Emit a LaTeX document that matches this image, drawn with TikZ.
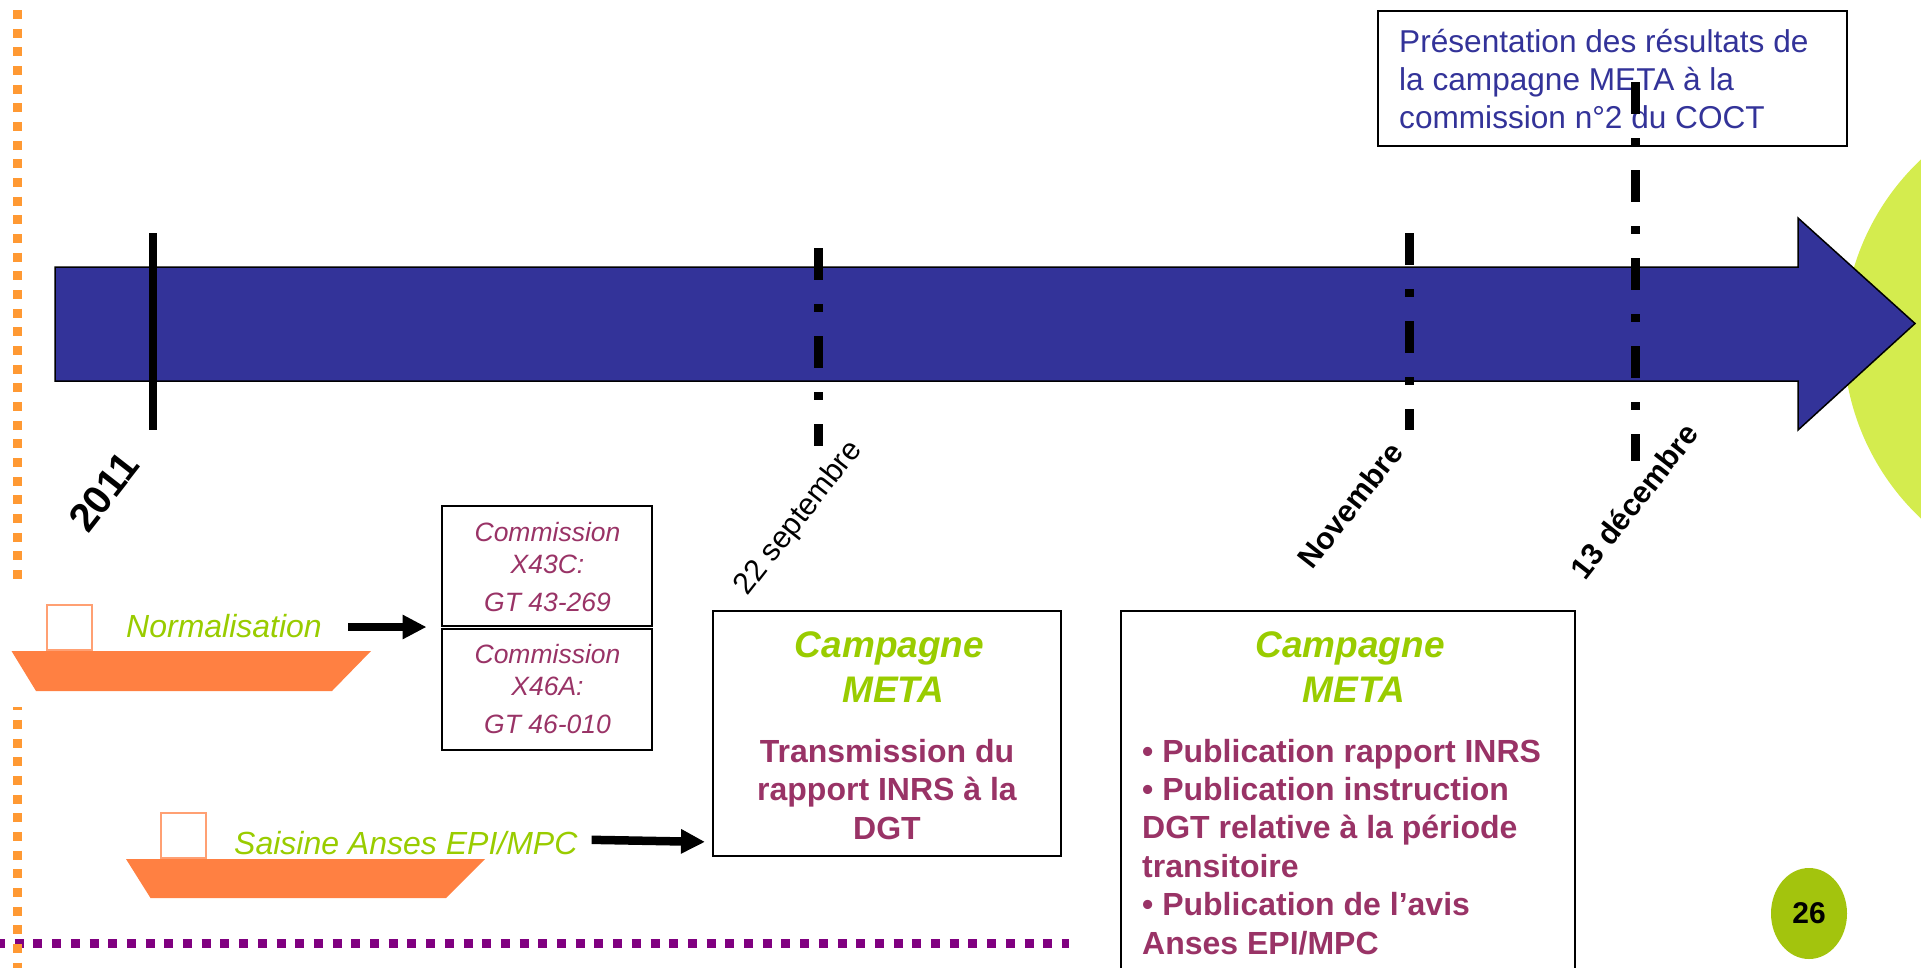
\documentclass[tikz,border=0pt]{standalone}
\usepackage{fontspec}
\setmainfont{Liberation Sans}
\usepackage{xcolor}
\usetikzlibrary{arrows.meta,calc,positioning,shapes.geometric}
\definecolor{timelineBlue}{RGB}{51,51,153}
\definecolor{wine}{RGB}{153,51,102}
\definecolor{leaf}{RGB}{153,204,0}
\definecolor{shipOrange}{RGB}{255,128,66}
\definecolor{cabinOrange}{RGB}{255,160,115}
\definecolor{dotOrange}{RGB}{255,153,51}
\definecolor{dotPurple}{RGB}{128,0,128}
\definecolor{sunLime}{RGB}{212,236,78}
\definecolor{badgeGreen}{RGB}{163,196,13}
\newcommand{\fsize}[2]{\fontsize{#1}{#2}\selectfont}
\tikzset{
  hull/.style={fill=shipOrange},
  cabin/.style={draw=cabinOrange, fill=white, line width=2pt},
  tick/.style={line width=8.5pt},
  tickDash/.style={tick, dash pattern=on 32pt off 24pt on 8pt off 24pt},
  dateLabel/.style={rotate=52, inner sep=0pt, font=\fsize{30.5}{30.5}},
  blockArrow/.style={-{Triangle[length=24pt,width=23pt]}, line width=8.5pt},
  sideNote/.style={font=\fsize{32}{32}\itshape, text=leaf, inner sep=0pt},
  framed/.style={draw, line width=2pt, inner sep=0pt},
  metaHead/.style={font=\fsize{37}{45.5}\bfseries\itshape, text=leaf, align=center, inner sep=0pt},
  metaBody/.style={font=\fsize{32}{38.4}\bfseries, text=wine, inner sep=0pt}
}
\begin{document}
\begin{tikzpicture}[x=1pt, y=-1pt]
  \useasboundingbox (0,0) rectangle (1921,967);
  \clip (0,0) rectangle (1921,967);
  % sun behind the arrow
  \fill[sunLime] (2090,339) circle (246.6pt);
  % page frame dots
  \draw[dotOrange, line width=9pt, dash pattern=on 9pt off 9.67pt] (17.5,-8.67) -- (17.5,579);
  \draw[dotPurple, line width=9pt, dash pattern=on 9pt off 9.7pt] (-4,943.7) -- (1069,943.7);
  \draw[dotOrange, line width=9pt, dash pattern=on 9pt off 9.67pt, dash phase=5.7pt] (17.5,707) -- (17.5,975);
  % timeline
  \draw[fill=timelineBlue, line width=1.5pt] (55,267) -- (1798,267) -- (1798,218) -- (1915,323.5)
    -- (1798,430) -- (1798,381) -- (55,381) -- cycle;
  \coordinate (t2011a) at (153,233);
  \coordinate (t2011b) at (153,430);
  \coordinate (tSepta) at (818.5,248);
  \coordinate (tSeptb) at (818.5,446);
  \coordinate (tNova) at (1409.5,233);
  \coordinate (tNovb) at (1409.5,430);
  \coordinate (tDeca) at (1635.5,82);
  \coordinate (tDecb) at (1635.5,461);
  % presentation box
  \node[framed, fill=white, minimum width=469pt, minimum height=135pt, anchor=north west] (coct) at (1377,10) {};
  \node[text=timelineBlue, font=\fsize{31.6}{38}, align=left, anchor=base west, inner sep=0pt] (coctTxt) at (1399,128.5)
    {Présentation des résultats de\\la campagne META à la\\commission n°2 du COCT};
  \draw[tick] (t2011a) -- (t2011b);
  \draw[tickDash] (tSepta) -- (tSeptb);
  \draw[tickDash] (tNova) -- (tNovb);
  \draw[tickDash] (tDeca) -- (tDecb);
  % dates
  \node[dateLabel, font=\fsize{40}{40}\bfseries] (d2011) at (104,492) {2011};
  \node[dateLabel] (dSept) at (799,518.5) {22 septembre};
  \node[dateLabel, font=\fsize{30.5}{30.5}\bfseries] (dNov) at (1350,505) {Novembre};
  \node[dateLabel, font=\fsize{30.5}{30.5}\bfseries] (dDec) at (1634,501) {13 décembre};
  % ships
  \fill[hull] (11.5,651) -- (371,651) -- (332,691) -- (36,691) -- cycle;
  \draw[cabin] (46.5,605) rectangle (92,650);
  \fill[hull] (126,859) -- (485,859) -- (446,898) -- (150.5,898) -- cycle;
  \draw[cabin] (160.5,813) rectangle (205.5,858);
  \node[sideNote, anchor=base west] (normal) at (126,637) {Normalisation};
  \node[sideNote, anchor=base west] (saisine) at (234,854) {Saisine Anses EPI/MPC};
  % commissions
  \node[framed, minimum width=210pt, minimum height=120.5pt, anchor=north west] (x43) at (440.5,504.5) {};
  \node[framed, minimum width=210pt, minimum height=121.3pt, anchor=north west] (x46) at (440.5,627.7) {};
  \node[font=\fsize{26.5}{32.5}\itshape, text=wine, align=center, anchor=base, inner sep=0pt] (x43txt) at (547.5,611)
    {Commission\\X43C:\\[5pt]GT 43-269};
  \node[font=\fsize{26.5}{32.5}\itshape, text=wine, align=center, anchor=base, inner sep=0pt] (x46txt) at (547.5,733)
    {Commission\\X46A:\\[5pt]GT 46-010};
  % meta boxes
  \node[framed, minimum width=348pt, minimum height=245pt, anchor=north west] (metaA) at (712,610) {};
  \node[framed, minimum width=454pt, minimum height=400pt, anchor=north west] (metaB) at (1120,610) {};
  \node[metaHead, anchor=base] (headA) at (893.5,702.5) {Campagne\hspace*{8pt}\\META};
  \node[metaHead, anchor=base] (headB) at (1354,702.5) {Campagne\hspace*{8pt}\\META};
  \node[metaBody, align=center, anchor=base] (bodyA) at (887,839) {Transmission du\\rapport INRS à la\\DGT};
  \node[metaBody, align=left, anchor=base west] (bodyB) at (1142,954)
    {• Publication rapport INRS\\• Publication instruction\\DGT relative à la période\\transitoire\\• Publication de l’avis\\Anses EPI/MPC};
  % arrows
  \draw[blockArrow, shorten <=26pt, shorten >=14pt] (normal.east |- x43.south west) -- (x43.south west);
  \draw[blockArrow, shorten <=14pt, shorten >=7pt] ([yshift=3pt]saisine.east) -- ([yshift=15pt]metaA.south west);
  % page number
  \node[ellipse, fill=badgeGreen, minimum width=76pt, minimum height=91pt, font=\fsize{30}{30}\bfseries, inner sep=0pt] (pageNo) at (1809,913.5) {26};
\end{tikzpicture}
\end{document}
